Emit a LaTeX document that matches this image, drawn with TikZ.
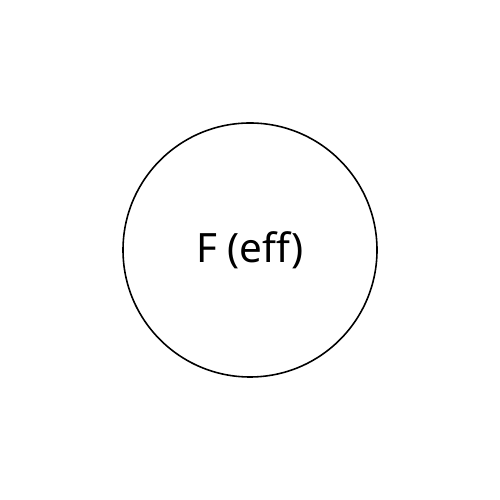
\documentclass[tikz,border=0pt]{standalone}
\usepackage{fontspec}
\setmainfont{Noto Sans}
\usetikzlibrary{positioning}

\begin{document}
\begin{tikzpicture}
            % Frame
            \useasboundingbox (0,0) rectangle (10,10);

            % The one node
            \node[draw, line width=0.9pt, circle, minimum size=5.08cm, inner sep=0pt,
                  font=\fontsize{23}{27}\selectfont] (feff) at (5,5) {F (eff)};
        \end{tikzpicture}
\end{document}
